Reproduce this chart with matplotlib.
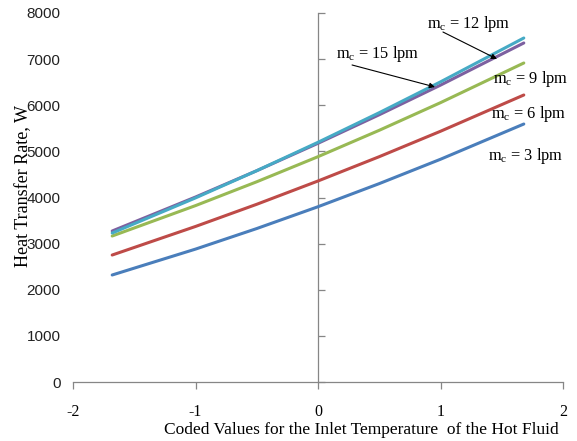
import matplotlib
matplotlib.use("Agg")
import matplotlib.pyplot as plt

plt.rcParams['mathtext.fontset'] = 'custom'
plt.rcParams['mathtext.rm'] = 'Liberation Serif'
plt.rcParams['mathtext.it'] = 'Liberation Serif:italic'

# Data
x_coded = [-1.68, -1.0, -0.5, 0.0, 0.5, 1.0, 1.68]
q_3lpm = [2320, 2881, 3327, 3800, 4301, 4829, 5593]
q_6lpm = [2753, 3372, 3853, 4358, 4885, 5436, 6222]
q_9lpm = [3165, 3824, 4341, 4885, 5457, 6056, 6916]
q_12lpm = [3274, 4010, 4581, 5175, 5794, 6436, 7350]
q_15lpm = [3230, 3991, 4581, 5197, 5839, 6507, 7458]

series = [
    (q_3lpm, '#4A7EBB'),
    (q_6lpm, '#BE4B48'),
    (q_9lpm, '#98B954'),
    (q_12lpm, '#7D60A0'),
    (q_15lpm, '#46AAC5'),
]

xticks = [-2, -1, 0, 1, 2]
yticks = [0, 1000, 2000, 3000, 4000, 5000, 6000, 7000, 8000]

fig = plt.figure(figsize=(5.77, 4.41), dpi=100)
ax = fig.add_axes([73/577, 59/441, 490/577, 369/441])

for vals, col in series:
    ax.plot(x_coded, vals, color=col, lw=2.2, solid_capstyle='round')

ax.set_xlim(-2, 2)
ax.set_ylim(0, 8000)

axis_col = '#868686'
for s in ['top', 'right', 'left']:
    ax.spines[s].set_visible(False)
ax.spines['bottom'].set_color(axis_col)
ax.spines['bottom'].set_linewidth(0.9)

ax.set_xticks(xticks)
ax.set_xticklabels([str(t) for t in xticks], family='Liberation Serif', fontsize=11.5)
ax.tick_params(axis='x', direction='out', length=5, width=0.9, color=axis_col, pad=11)

ax.set_yticks(yticks)
ax.set_yticklabels([str(t) for t in yticks], family='Liberation Sans', fontsize=11, color='#222222')
ax.tick_params(axis='y', length=0, pad=9)

# vertical axis line at x = 0 with ticks
sec = ax.secondary_yaxis(0.5)
sec.set_yticks(yticks)
sec.set_yticklabels([])
for sp in sec.spines.values():
    sp.set_color(axis_col)
    sp.set_linewidth(0.9)
sec.tick_params(axis='y', direction='out', length=5, width=0.9, color=axis_col)

ax.set_xlabel('Coded Values for the Inlet Temperature  of the Hot Fluid',
              family='Liberation Serif', fontsize=12.5)
ax.xaxis.set_label_coords(0.588, -0.108)
ax.set_ylabel('Heat Transfer Rate, W', family='Liberation Serif', fontsize=13)
ax.yaxis.set_label_coords(-0.084, 0.53)

tfont = dict(family='Liberation Serif', fontsize=11.8, ha='center', va='center')
ax.text(1.233, 7761, r'm$_\mathrm{c}$ = 12 lpm', **tfont)
ax.text(0.486, 7111, r'm$_\mathrm{c}$ = 15 lpm', **tfont)
ax.text(1.739, 6569, r'm$_\mathrm{c}$ = 9 lpm', **tfont)
ax.text(1.722, 5810, r'm$_\mathrm{c}$ = 6 lpm', **tfont)
ax.text(1.698, 4900, r'm$_\mathrm{c}$ = 3 lpm', **tfont)

arrow = dict(arrowstyle='-|>', color='black', lw=0.8, mutation_scale=8,
             shrinkA=0, shrinkB=0)
ax.annotate('', xy=(1.461, 7003), xytext=(1.02, 7588), arrowprops=arrow)
ax.annotate('', xy=(0.955, 6396), xytext=(0.278, 6873), arrowprops=arrow)

fig.savefig('out.png', dpi=100)
